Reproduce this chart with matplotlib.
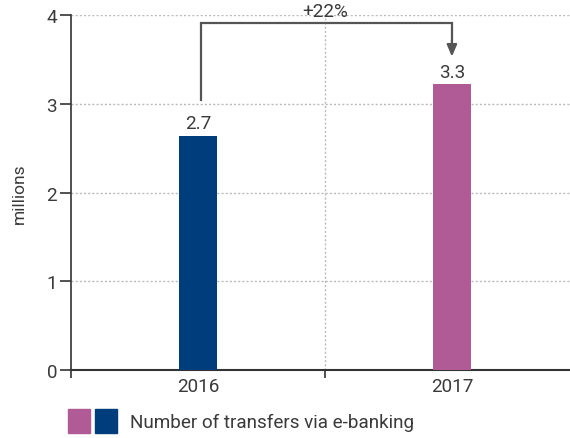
import matplotlib
matplotlib.use("Agg")
import matplotlib.pyplot as plt
from matplotlib.patches import Rectangle

years = ["2016", "2017"]
values = [2.64, 3.22]
labels = ["2.7", "3.3"]
colors = ["#003D7C", "#B05A96"]
change_label = "+22%"
y_ticks = [0, 1, 2, 3, 4]
legend_label = "Number of transfers via e-banking"
y_label = "millions"

plt.rcParams['font.family'] = ['Roboto', 'DejaVu Sans']
txt = "#3a3a3a"
fs = 13.6

fig = plt.figure(figsize=(5.70, 4.39), dpi=100)
ax = fig.add_axes([71/570, 1-371/439, 1-71/570, (371-16)/439])

x = list(range(len(years)))
ax.bar(x, values, width=0.15, color=colors, zorder=3)
for xi, v, l in zip(x, values, labels):
    ax.text(xi, v + 0.04, l, ha="center", va="bottom", fontsize=fs, color=txt)

ax.set_xlim(-0.5, 1.465)
ax.set_ylim(0, 4)
ax.set_yticks(y_ticks)
ax.set_yticklabels([str(t) for t in y_ticks], fontsize=fs, color=txt)
ax.set_xticks([-0.5, 0.5])
ax.set_xticklabels([])
for xi, yr in zip(x, years):
    ax.text(xi, -0.18, yr, ha="center", va="center", fontsize=fs, color=txt,
            transform=ax.transData, clip_on=False)
ax.tick_params(axis="y", length=8, width=1.2, color="#333333", pad=2)
ax.tick_params(axis="x", length=6, width=1.2, color="#333333")

for yv in y_ticks[1:]:
    ax.axhline(yv, color="#bbbbbb", lw=1, ls=(0, (1.5, 1.5)), zorder=1)
ax.axvline(0.5, color="#bbbbbb", lw=1, ls=(0, (1.5, 1.5)), zorder=1)

for s in ["top", "right"]:
    ax.spines[s].set_visible(False)
ax.spines["left"].set_color("#333333")
ax.spines["left"].set_linewidth(1.2)
ax.spines["bottom"].set_color("#333333")
ax.spines["bottom"].set_linewidth(1.5)

ax.set_ylabel(y_label, fontsize=12.5, color=txt, labelpad=14)

# change bracket
ytop = 3.91
ax.plot([0.01, 0.01, 1.0, 1.0], [3.04, ytop, ytop, 3.72], color="#555555", lw=1.6,
        zorder=4, clip_on=False, solid_joinstyle="miter")
ax.annotate("", xy=(1.0, 3.5), xytext=(1.0, 3.75),
            arrowprops=dict(arrowstyle="-|>,head_width=0.3,head_length=0.7",
                            color="#555555", lw=1.6), annotation_clip=False)
ax.text(0.5, 4.05, change_label, ha="center", va="center", fontsize=fs, color=txt,
        clip_on=False)

# legend
fig.patches.append(Rectangle((68/570, 1-434/439), 22/570, 24/439, transform=fig.transFigure,
                             color=colors[1], figure=fig))
fig.patches.append(Rectangle((95/570, 1-434/439), 22/570, 24/439, transform=fig.transFigure,
                             color=colors[0], figure=fig))
fig.text(130/570, 1-423/439, legend_label, ha="left", va="center", fontsize=fs, color=txt)

fig.savefig("out.png", dpi=100)
